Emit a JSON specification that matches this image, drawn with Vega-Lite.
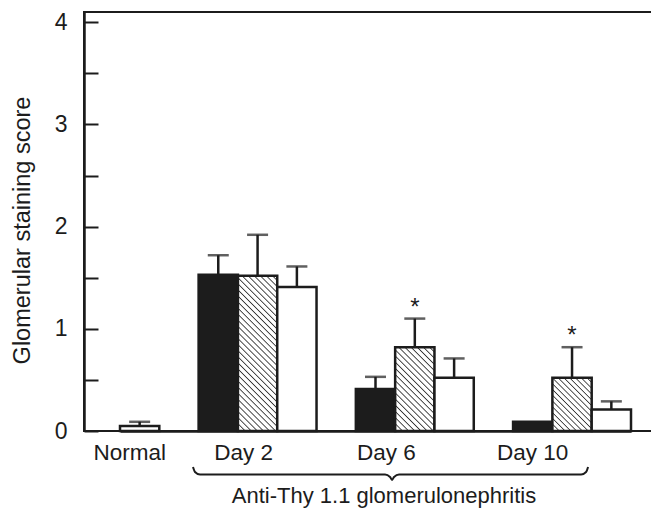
{
  "$schema": "https://vega.github.io/schema/vega-lite/v6.json",
  "autosize": {"type": "none"},
  "padding": {"left": 84, "top": 12, "right": 0, "bottom": 77},
  "width": 570,
  "height": 419,
  "background": "white",
  "config": {
    "view": {"stroke": "#1c1c1c", "strokeWidth": 2},
    "font": "Liberation Sans",
    "axis": {"labelFont": "Liberation Sans", "titleFont": "Liberation Sans", "titleFontWeight": "normal", "labelColor": "#1c1c1c", "titleColor": "#1c1c1c", "domainColor": "#1c1c1c", "tickColor": "#1c1c1c", "labelFontSize": 22, "titleFontSize": 22}
  },
  "data": {
    "values": [
      {"group": "Normal", "series": "white", "score": 0.05, "upper": 0.09},
      {"group": "Day 2", "series": "black", "score": 1.53, "upper": 1.72},
      {"group": "Day 2", "series": "hatched", "score": 1.52, "upper": 1.92},
      {"group": "Day 2", "series": "white", "score": 1.41, "upper": 1.61},
      {"group": "Day 6", "series": "black", "score": 0.41, "upper": 0.53},
      {"group": "Day 6", "series": "hatched", "score": 0.82, "upper": 1.1, "sig": "*"},
      {"group": "Day 6", "series": "white", "score": 0.52, "upper": 0.71},
      {"group": "Day 10", "series": "black", "score": 0.09, "upper": null},
      {"group": "Day 10", "series": "hatched", "score": 0.52, "upper": 0.82, "sig": "*"},
      {"group": "Day 10", "series": "white", "score": 0.21, "upper": 0.29}
    ]
  },
  "resolve": {"scale": {"x": "independent"}, "axis": {"x": "independent"}},
  "layer": [
    {
      "transform": [{"calculate": "datum.group + '|' + datum.series", "as": "slot"}],
      "encoding": {
        "x": {
          "field": "slot", "type": "nominal",
          "scale": {"domain": ["Normal|white", "gap1", "Day 2|black", "Day 2|hatched", "Day 2|white", "gap2", "Day 6|black", "Day 6|hatched", "Day 6|white", "gap3", "Day 10|black", "Day 10|hatched", "Day 10|white"], "range": [36, 547], "paddingInner": 0, "paddingOuter": 0},
          "axis": {
            "title": "Anti-Thy 1.1 glomerulonephritis",
            "titleX": 299.5, "titleY": 71, "titleBaseline": "alphabetic", "titleAlign": "center", "titleAnchor": null,
            "labelExpr": "datum.value == 'Normal|white' ? 'Normal' : datum.value == 'Day 2|hatched' ? 'Day 2' : datum.value == 'Day 6|black' ? 'Day 6' : datum.value == 'Day 10|black' ? 'Day 10' : ''",
            "labelOffset": {"condition": [
              {"test": "datum.value == 'Normal|white'", "value": -10},
              {"test": "datum.value == 'Day 2|hatched'", "value": -14},
              {"test": "datum.value == 'Day 6|black'", "value": 11}
            ], "value": 0},
            "labelAngle": 0, "labelPadding": 10, "labelFontSize": 22.5, "labelOverlap": false, "labelBound": false, "labelFlush": false,
            "ticks": false, "domainWidth": 2.5, "grid": false
          }
        },
        "y": {
          "field": "score", "type": "quantitative",
          "scale": {"domain": [0, 4.1], "nice": false, "zero": true},
          "axis": {
            "title": "Glomerular staining score",
            "titleX": -62, "titleY": 218, "titleAngle": -90, "titleAlign": "center", "titleBaseline": "middle", "titleFontSize": 23.5,
            "values": [0, 0.5, 1, 1.5, 2, 2.5, 3, 3.5, 4],
            "labelExpr": "datum.value % 1 == 0 ? format(datum.value, 'd') : ''",
            "labelFontSize": 23,
            "tickSize": -14, "tickWidth": 2, "domainWidth": 2.5, "grid": false,
            "labelPadding": 31, "labelOverlap": false
          }
        }
      },
      "layer": [
        {
          "mark": {"type": "bar", "stroke": "#1c1c1c", "strokeWidth": 2.5},
          "encoding": {
            "fill": {
              "condition": [
                {"test": "datum.series == 'black'", "value": "#1c1c1c"},
                {"test": "datum.slot == 'Day 2|hatched'", "value": {"gradient": "linear", "x1": 0, "y1": 1, "x2": 0.2978, "y2": -0.1776, "stops": [
                  {"offset": 0, "color": "#ffffff"}, {"offset": 0.00625, "color": "#333333"}, {"offset": 0.0125, "color": "#ffffff"},
                  {"offset": 0.03125, "color": "#ffffff"}, {"offset": 0.0375, "color": "#333333"}, {"offset": 0.04375, "color": "#ffffff"},
                  {"offset": 0.0625, "color": "#ffffff"}, {"offset": 0.06875, "color": "#333333"}, {"offset": 0.075, "color": "#ffffff"},
                  {"offset": 0.09375, "color": "#ffffff"}, {"offset": 0.1, "color": "#333333"}, {"offset": 0.10625, "color": "#ffffff"},
                  {"offset": 0.125, "color": "#ffffff"}, {"offset": 0.13125, "color": "#333333"}, {"offset": 0.1375, "color": "#ffffff"},
                  {"offset": 0.15625, "color": "#ffffff"}, {"offset": 0.1625, "color": "#333333"}, {"offset": 0.16875, "color": "#ffffff"},
                  {"offset": 0.1875, "color": "#ffffff"}, {"offset": 0.19375, "color": "#333333"}, {"offset": 0.2, "color": "#ffffff"},
                  {"offset": 0.21875, "color": "#ffffff"}, {"offset": 0.225, "color": "#333333"}, {"offset": 0.23125, "color": "#ffffff"},
                  {"offset": 0.25, "color": "#ffffff"}, {"offset": 0.25625, "color": "#333333"}, {"offset": 0.2625, "color": "#ffffff"},
                  {"offset": 0.28125, "color": "#ffffff"}, {"offset": 0.2875, "color": "#333333"}, {"offset": 0.29375, "color": "#ffffff"},
                  {"offset": 0.3125, "color": "#ffffff"}, {"offset": 0.31875, "color": "#333333"}, {"offset": 0.325, "color": "#ffffff"},
                  {"offset": 0.34375, "color": "#ffffff"}, {"offset": 0.35, "color": "#333333"}, {"offset": 0.35625, "color": "#ffffff"},
                  {"offset": 0.375, "color": "#ffffff"}, {"offset": 0.38125, "color": "#333333"}, {"offset": 0.3875, "color": "#ffffff"},
                  {"offset": 0.40625, "color": "#ffffff"}, {"offset": 0.4125, "color": "#333333"}, {"offset": 0.41875, "color": "#ffffff"},
                  {"offset": 0.4375, "color": "#ffffff"}, {"offset": 0.44375, "color": "#333333"}, {"offset": 0.45, "color": "#ffffff"},
                  {"offset": 0.46875, "color": "#ffffff"}, {"offset": 0.475, "color": "#333333"}, {"offset": 0.48125, "color": "#ffffff"},
                  {"offset": 0.5, "color": "#ffffff"}, {"offset": 0.50625, "color": "#333333"}, {"offset": 0.5125, "color": "#ffffff"},
                  {"offset": 0.53125, "color": "#ffffff"}, {"offset": 0.5375, "color": "#333333"}, {"offset": 0.54375, "color": "#ffffff"},
                  {"offset": 0.5625, "color": "#ffffff"}, {"offset": 0.56875, "color": "#333333"}, {"offset": 0.575, "color": "#ffffff"},
                  {"offset": 0.59375, "color": "#ffffff"}, {"offset": 0.6, "color": "#333333"}, {"offset": 0.60625, "color": "#ffffff"},
                  {"offset": 0.625, "color": "#ffffff"}, {"offset": 0.63125, "color": "#333333"}, {"offset": 0.6375, "color": "#ffffff"},
                  {"offset": 0.65625, "color": "#ffffff"}, {"offset": 0.6625, "color": "#333333"}, {"offset": 0.66875, "color": "#ffffff"},
                  {"offset": 0.6875, "color": "#ffffff"}, {"offset": 0.69375, "color": "#333333"}, {"offset": 0.7, "color": "#ffffff"},
                  {"offset": 0.71875, "color": "#ffffff"}, {"offset": 0.725, "color": "#333333"}, {"offset": 0.73125, "color": "#ffffff"},
                  {"offset": 0.75, "color": "#ffffff"}, {"offset": 0.75625, "color": "#333333"}, {"offset": 0.7625, "color": "#ffffff"},
                  {"offset": 0.78125, "color": "#ffffff"}, {"offset": 0.7875, "color": "#333333"}, {"offset": 0.79375, "color": "#ffffff"},
                  {"offset": 0.8125, "color": "#ffffff"}, {"offset": 0.81875, "color": "#333333"}, {"offset": 0.825, "color": "#ffffff"},
                  {"offset": 0.84375, "color": "#ffffff"}, {"offset": 0.85, "color": "#333333"}, {"offset": 0.85625, "color": "#ffffff"},
                  {"offset": 0.875, "color": "#ffffff"}, {"offset": 0.88125, "color": "#333333"}, {"offset": 0.8875, "color": "#ffffff"},
                  {"offset": 0.90625, "color": "#ffffff"}, {"offset": 0.9125, "color": "#333333"}, {"offset": 0.91875, "color": "#ffffff"},
                  {"offset": 0.9375, "color": "#ffffff"}, {"offset": 0.94375, "color": "#333333"}, {"offset": 0.95, "color": "#ffffff"},
                  {"offset": 0.96875, "color": "#ffffff"}, {"offset": 0.975, "color": "#333333"}, {"offset": 0.98125, "color": "#ffffff"},
                  {"offset": 1, "color": "#ffffff"}
                ]}},
                {"test": "datum.slot == 'Day 6|hatched'", "value": {"gradient": "linear", "x1": 0, "y1": 1, "x2": 0.5647, "y2": -0.2041, "stops": [
                  {"offset": 0, "color": "#ffffff"}, {"offset": 0.01, "color": "#333333"}, {"offset": 0.02, "color": "#ffffff"},
                  {"offset": 0.05, "color": "#ffffff"}, {"offset": 0.06, "color": "#333333"}, {"offset": 0.07, "color": "#ffffff"},
                  {"offset": 0.1, "color": "#ffffff"}, {"offset": 0.11, "color": "#333333"}, {"offset": 0.12, "color": "#ffffff"},
                  {"offset": 0.15, "color": "#ffffff"}, {"offset": 0.16, "color": "#333333"}, {"offset": 0.17, "color": "#ffffff"},
                  {"offset": 0.2, "color": "#ffffff"}, {"offset": 0.21, "color": "#333333"}, {"offset": 0.22, "color": "#ffffff"},
                  {"offset": 0.25, "color": "#ffffff"}, {"offset": 0.26, "color": "#333333"}, {"offset": 0.27, "color": "#ffffff"},
                  {"offset": 0.3, "color": "#ffffff"}, {"offset": 0.31, "color": "#333333"}, {"offset": 0.32, "color": "#ffffff"},
                  {"offset": 0.35, "color": "#ffffff"}, {"offset": 0.36, "color": "#333333"}, {"offset": 0.37, "color": "#ffffff"},
                  {"offset": 0.4, "color": "#ffffff"}, {"offset": 0.41, "color": "#333333"}, {"offset": 0.42, "color": "#ffffff"},
                  {"offset": 0.45, "color": "#ffffff"}, {"offset": 0.46, "color": "#333333"}, {"offset": 0.47, "color": "#ffffff"},
                  {"offset": 0.5, "color": "#ffffff"}, {"offset": 0.51, "color": "#333333"}, {"offset": 0.52, "color": "#ffffff"},
                  {"offset": 0.55, "color": "#ffffff"}, {"offset": 0.56, "color": "#333333"}, {"offset": 0.57, "color": "#ffffff"},
                  {"offset": 0.6, "color": "#ffffff"}, {"offset": 0.61, "color": "#333333"}, {"offset": 0.62, "color": "#ffffff"},
                  {"offset": 0.65, "color": "#ffffff"}, {"offset": 0.66, "color": "#333333"}, {"offset": 0.67, "color": "#ffffff"},
                  {"offset": 0.7, "color": "#ffffff"}, {"offset": 0.71, "color": "#333333"}, {"offset": 0.72, "color": "#ffffff"},
                  {"offset": 0.75, "color": "#ffffff"}, {"offset": 0.76, "color": "#333333"}, {"offset": 0.77, "color": "#ffffff"},
                  {"offset": 0.8, "color": "#ffffff"}, {"offset": 0.81, "color": "#333333"}, {"offset": 0.82, "color": "#ffffff"},
                  {"offset": 0.85, "color": "#ffffff"}, {"offset": 0.86, "color": "#333333"}, {"offset": 0.87, "color": "#ffffff"},
                  {"offset": 0.9, "color": "#ffffff"}, {"offset": 0.91, "color": "#333333"}, {"offset": 0.92, "color": "#ffffff"},
                  {"offset": 0.95, "color": "#ffffff"}, {"offset": 0.96, "color": "#333333"}, {"offset": 0.97, "color": "#ffffff"},
                  {"offset": 1, "color": "#ffffff"}
                ]}},
                {"test": "datum.slot == 'Day 10|hatched'", "value": {"gradient": "linear", "x1": 0, "y1": 1, "x2": 0.832, "y2": -0.124, "stops": [
                  {"offset": 0, "color": "#ffffff"}, {"offset": 0.0125, "color": "#333333"}, {"offset": 0.025, "color": "#ffffff"},
                  {"offset": 0.0625, "color": "#ffffff"}, {"offset": 0.075, "color": "#333333"}, {"offset": 0.0875, "color": "#ffffff"},
                  {"offset": 0.125, "color": "#ffffff"}, {"offset": 0.1375, "color": "#333333"}, {"offset": 0.15, "color": "#ffffff"},
                  {"offset": 0.1875, "color": "#ffffff"}, {"offset": 0.2, "color": "#333333"}, {"offset": 0.2125, "color": "#ffffff"},
                  {"offset": 0.25, "color": "#ffffff"}, {"offset": 0.2625, "color": "#333333"}, {"offset": 0.275, "color": "#ffffff"},
                  {"offset": 0.3125, "color": "#ffffff"}, {"offset": 0.325, "color": "#333333"}, {"offset": 0.3375, "color": "#ffffff"},
                  {"offset": 0.375, "color": "#ffffff"}, {"offset": 0.3875, "color": "#333333"}, {"offset": 0.4, "color": "#ffffff"},
                  {"offset": 0.4375, "color": "#ffffff"}, {"offset": 0.45, "color": "#333333"}, {"offset": 0.4625, "color": "#ffffff"},
                  {"offset": 0.5, "color": "#ffffff"}, {"offset": 0.5125, "color": "#333333"}, {"offset": 0.525, "color": "#ffffff"},
                  {"offset": 0.5625, "color": "#ffffff"}, {"offset": 0.575, "color": "#333333"}, {"offset": 0.5875, "color": "#ffffff"},
                  {"offset": 0.625, "color": "#ffffff"}, {"offset": 0.6375, "color": "#333333"}, {"offset": 0.65, "color": "#ffffff"},
                  {"offset": 0.6875, "color": "#ffffff"}, {"offset": 0.7, "color": "#333333"}, {"offset": 0.7125, "color": "#ffffff"},
                  {"offset": 0.75, "color": "#ffffff"}, {"offset": 0.7625, "color": "#333333"}, {"offset": 0.775, "color": "#ffffff"},
                  {"offset": 0.8125, "color": "#ffffff"}, {"offset": 0.825, "color": "#333333"}, {"offset": 0.8375, "color": "#ffffff"},
                  {"offset": 0.875, "color": "#ffffff"}, {"offset": 0.8875, "color": "#333333"}, {"offset": 0.9, "color": "#ffffff"},
                  {"offset": 0.9375, "color": "#ffffff"}, {"offset": 0.95, "color": "#333333"}, {"offset": 0.9625, "color": "#ffffff"},
                  {"offset": 1, "color": "#ffffff"}
                ]}}
              ],
              "value": "#ffffff"
            }
          }
        },
        {
          "transform": [{"filter": "datum.upper != null"}],
          "mark": {"type": "rule", "color": "#1c1c1c", "strokeWidth": 2.5},
          "encoding": {"y2": {"field": "upper"}}
        },
        {
          "transform": [{"filter": "datum.upper != null"}],
          "mark": {"type": "tick", "color": "#1c1c1c", "size": 21, "thickness": 2.5, "orient": "horizontal"},
          "encoding": {"y": {"field": "upper", "type": "quantitative"}}
        },
        {
          "transform": [{"filter": "datum.sig != null"}],
          "mark": {"type": "text", "color": "#1c1c1c", "fontSize": 24, "baseline": "alphabetic", "dy": -4},
          "encoding": {"y": {"field": "upper", "type": "quantitative"}, "text": {"field": "sig"}}
        }
      ]
    },
    {
      "data": {"values": [
        {"u": 1.857, "v": -0.352},
        {"u": 1.908, "v": -0.401},
        {"u": 2.036, "v": -0.426},
        {"u": 6.743, "v": -0.426},
        {"u": 6.87, "v": -0.45},
        {"u": 6.921, "v": -0.479},
        {"u": 6.972, "v": -0.45},
        {"u": 7.099, "v": -0.426},
        {"u": 11.73, "v": -0.426},
        {"u": 11.857, "v": -0.401},
        {"u": 11.908, "v": -0.352}
      ]},
      "mark": {"type": "line", "color": "#1c1c1c", "strokeWidth": 2, "interpolate": "monotone", "clip": false},
      "encoding": {
        "x": {"field": "u", "type": "quantitative", "scale": {"domain": [0, 13], "range": [36, 547], "nice": false, "zero": false}, "axis": null},
        "y": {"field": "v", "type": "quantitative"}
      }
    }
  ]
}
